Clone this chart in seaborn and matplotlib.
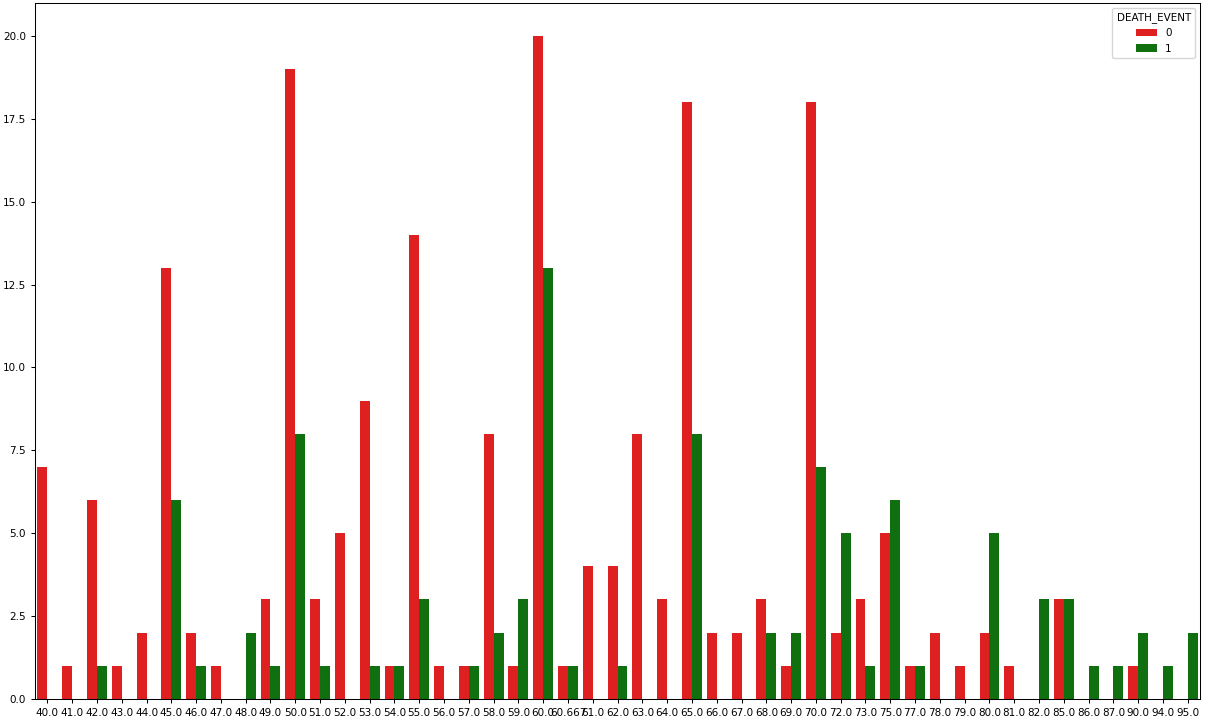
import pandas as pd
import seaborn as sns
import matplotlib.pyplot as plt

# Age categories (as shown on the x axis)
ages = ["40.0", "41.0", "42.0", "43.0", "44.0", "45.0", "46.0", "47.0", "48.0", "49.0",
        "50.0", "51.0", "52.0", "53.0", "54.0", "55.0", "56.0", "57.0", "58.0", "59.0",
        "60.0", "60.667", "61.0", "62.0", "63.0", "64.0", "65.0", "66.0", "67.0", "68.0",
        "69.0", "70.0", "72.0", "73.0", "75.0", "77.0", "78.0", "79.0", "80.0", "81.0",
        "82.0", "85.0", "86.0", "87.0", "90.0", "94.0", "95.0"]

# Counts per age for DEATH_EVENT = 0 and 1
survived = [7, 1, 6, 1, 2, 13, 2, 1, 0, 3,
            19, 3, 5, 9, 1, 14, 1, 1, 8, 1,
            20, 1, 4, 4, 8, 3, 18, 2, 2, 3,
            1, 18, 2, 3, 5, 1, 2, 1, 2, 1,
            0, 3, 0, 0, 1, 0, 0]
died = [0, 0, 1, 0, 0, 6, 1, 0, 2, 1,
        8, 1, 0, 1, 1, 3, 0, 1, 2, 3,
        13, 1, 0, 1, 0, 0, 8, 0, 0, 2,
        2, 7, 5, 1, 6, 1, 0, 0, 5, 0,
        3, 3, 1, 1, 2, 1, 2]

df = pd.DataFrame({
    "age": ages * 2,
    "count": survived + died,
    "DEATH_EVENT": ["0"] * len(ages) + ["1"] * len(ages),
})

plt.rcParams["font.size"] = 7.5
plt.rcParams["axes.linewidth"] = 0.75
plt.rcParams["xtick.major.width"] = 0.75
plt.rcParams["ytick.major.width"] = 0.75
plt.rcParams["xtick.major.size"] = 3
plt.rcParams["ytick.major.size"] = 3

fig, ax = plt.subplots(figsize=(12.05, 7.22), dpi=100)
sns.barplot(data=df, x="age", y="count", hue="DEATH_EVENT",
            palette=["red", "green"], order=ages, ax=ax)

ax.set_xlabel("")
ax.set_ylabel("")
ax.set_xlim(-0.5, len(ages) - 0.5)
ax.set_ylim(0, 21)
ax.legend(title="DEATH_EVENT", loc="upper right", fontsize=7.5, title_fontsize=7.5)

plt.subplots_adjust(left=0.029, right=0.996, top=0.996, bottom=0.032)
plt.savefig("out.png", dpi=100)
